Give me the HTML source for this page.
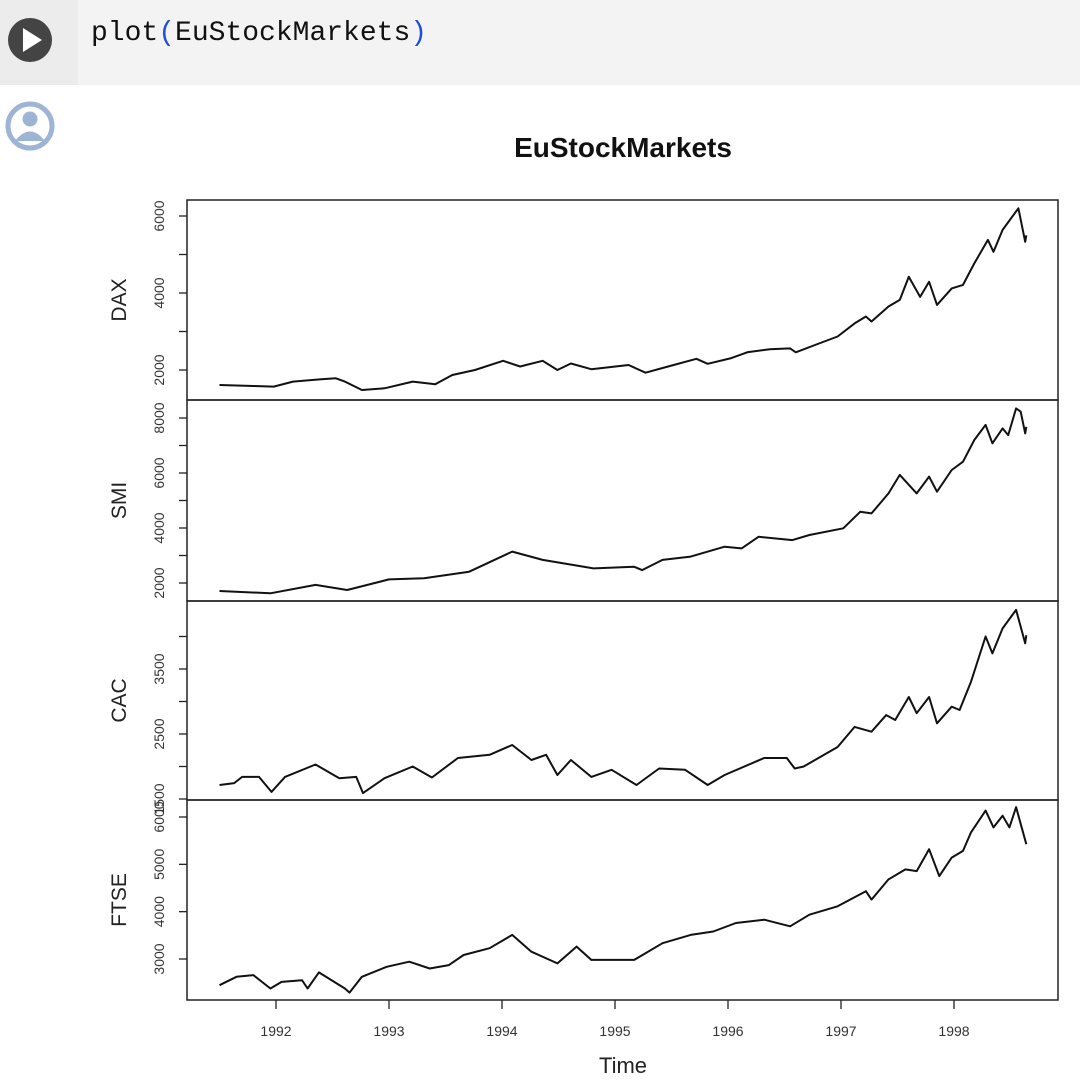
<!DOCTYPE html>
<html><head><meta charset="utf-8">
<style>
html,body{margin:0;padding:0;background:#fff;width:1080px;height:1092px;overflow:hidden;}
#hdr{position:absolute;left:0;top:0;width:1080px;height:85px;background:#f3f3f3;}
#gut{position:absolute;left:0;top:0;width:78px;height:85px;background:#ececec;}
#code{position:absolute;left:91px;top:18px;font-family:"Liberation Mono",monospace;font-size:28px;color:#111;}
#code .p{color:#1f4fd8;}
svg{position:absolute;left:0;top:0;}
</style></head><body>
<div id="hdr"></div>
<div id="gut"></div>
<svg width="1080" height="1092">
 <g>
  <circle cx="30" cy="40" r="22" fill="#444"/>
  <polygon points="23,28 23,52 42,40" fill="#fff"/>
 </g>
 <g>
  <circle cx="30" cy="126" r="22" fill="#fff" stroke="#9db4d5" stroke-width="5"/>
  <circle cx="30" cy="119" r="7.5" fill="#9db4d5"/>
  <path d="M15,141 Q30,122 45,141 Z" fill="#9db4d5"/>
 </g>
 <g id="chart"></g>
</svg>
<div id="code">plot<span class="p">(</span>EuStockMarkets<span class="p">)</span></div>
<script>
const daxT=[1991.5,1991.8,1991.98,1992.15,1992.4,1992.53,1992.61,1992.76,1992.96,1993.21,1993.41,1993.56,1993.76,1994.01,1994.16,1994.36,1994.49,1994.61,1994.79,1995.12,1995.27,1995.47,1995.72,1995.82,1996.02,1996.17,1996.37,1996.55,1996.6,1996.77,1996.97,1997.12,1997.22,1997.27,1997.42,1997.52,1997.6,1997.7,1997.78,1997.85,1997.98,1998.08,1998.18,1998.3,1998.35,1998.43,1998.57,1998.63,1998.64];
const daxV=[1610,1585,1570,1700,1760,1785,1700,1480,1525,1700,1630,1870,2000,2240,2090,2240,2000,2170,2020,2130,1930,2090,2290,2160,2300,2460,2540,2560,2460,2650,2870,3210,3390,3260,3650,3820,4420,3900,4290,3690,4120,4210,4770,5380,5070,5640,6200,5330,5500];
const smiT=[1991.5,1991.95,1992.35,1992.63,1993.0,1993.31,1993.71,1994.09,1994.36,1994.81,1995.17,1995.24,1995.42,1995.67,1995.97,1996.12,1996.27,1996.57,1996.72,1997.02,1997.17,1997.27,1997.42,1997.52,1997.67,1997.78,1997.85,1997.98,1998.08,1998.18,1998.28,1998.34,1998.43,1998.48,1998.55,1998.59,1998.63,1998.64];
const smiV=[1710,1625,1930,1745,2130,2170,2410,3140,2840,2530,2590,2470,2840,2960,3320,3260,3680,3560,3745,3990,4590,4530,5260,5930,5260,5870,5320,6110,6410,7200,7750,7080,7620,7380,8350,8230,7440,7680];
const cacT=[1991.5,1991.63,1991.7,1991.85,1991.96,1992.08,1992.35,1992.56,1992.71,1992.77,1992.96,1993.21,1993.38,1993.61,1993.89,1994.09,1994.26,1994.39,1994.49,1994.61,1994.79,1994.97,1995.19,1995.39,1995.62,1995.82,1995.97,1996.32,1996.52,1996.59,1996.67,1996.97,1997.12,1997.27,1997.4,1997.48,1997.6,1997.67,1997.78,1997.85,1997.98,1998.05,1998.15,1998.28,1998.34,1998.43,1998.55,1998.63,1998.64];
const cacV=[1715,1745,1840,1840,1610,1840,2030,1820,1840,1590,1820,2000,1830,2130,2180,2330,2100,2180,1870,2100,1840,1950,1715,1970,1950,1715,1870,2130,2130,1970,2000,2300,2610,2535,2790,2715,3070,2820,3070,2665,2920,2870,3305,4000,3740,4125,4410,3895,4020];
const ftseT=[1991.5,1991.65,1991.8,1991.95,1992.05,1992.23,1992.28,1992.38,1992.61,1992.65,1992.76,1992.98,1993.18,1993.36,1993.53,1993.66,1993.89,1994.09,1994.26,1994.49,1994.66,1994.79,1995.17,1995.42,1995.67,1995.87,1996.07,1996.32,1996.55,1996.72,1996.97,1997.22,1997.27,1997.42,1997.57,1997.67,1997.78,1997.87,1997.98,1998.08,1998.15,1998.28,1998.35,1998.43,1998.49,1998.55,1998.64];
const ftseV=[2447,2623,2660,2376,2517,2553,2376,2717,2376,2290,2623,2836,2943,2800,2872,3085,3228,3510,3155,2908,3262,2980,2980,3334,3510,3580,3760,3830,3690,3935,4113,4432,4255,4681,4894,4858,5320,4751,5143,5283,5675,6135,5780,6028,5780,6207,5425];
const xTicks=[1992,1993,1994,1995,1996,1997,1998];
const daxTicks=[2000,3000,4000,5000,6000], daxLabels=["2000","","4000","","6000"];
const smiTicks=[2000,3000,4000,5000,6000,7000,8000], smiLabels=["2000","","4000","","6000","","8000"];
const cacTicks=[1500,2000,2500,3000,3500,4000], cacLabels=["1500","","2500","","3500",""];
const ftseTicks=[3000,4000,5000,6000], ftseLabels=["3000","4000","5000","6000"];

const NS="http://www.w3.org/2000/svg";
const g=document.getElementById('chart');
const L=187,R=1058;
const xs=t=>276+(t-1992)*113;
function mk(tag,attrs,parent){const e=document.createElementNS(NS,tag);for(const k in attrs)e.setAttribute(k,attrs[k]);(parent||g).appendChild(e);return e;}
function scale(v1,p1,v2,p2){return v=>p1+(v-v1)*(p2-p1)/(v2-v1);}
const panels=[
 {name:'dax',title:'DAX',top:200,bot:400,T:daxT,V:daxV,ticks:daxTicks,labels:daxLabels,y:scale(2000,370,6000,216)},
 {name:'smi',title:'SMI',top:400,bot:601,T:smiT,V:smiV,ticks:smiTicks,labels:smiLabels,y:scale(2000,583,8000,418)},
 {name:'cac',title:'CAC',top:601,bot:800,T:cacT,V:cacV,ticks:cacTicks,labels:cacLabels,y:scale(2500,734,3500,669)},
 {name:'ftse',title:'FTSE',top:800,bot:1000,T:ftseT,V:ftseV,ticks:ftseTicks,labels:ftseLabels,y:scale(3000,959,6000,817)}
];
const title=mk('text',{x:623,y:157,'text-anchor':'middle','font-family':'Liberation Sans, sans-serif','font-size':'28','font-weight':'bold',fill:'#111'});


title.textContent='EuStockMarkets';
panels.forEach(p=>{
 const pg=mk('g',{});
 
 
 const fr=mk('rect',{x:L,y:p.top,width:R-L,height:p.bot-p.top,fill:'none',stroke:'#222','stroke-width':1.5},pg);
 
 
 p.ticks.forEach((v,i)=>{
  const yy=p.y(v);
  const tk=mk('line',{x1:L,x2:L-8,y1:yy,y2:yy,stroke:'#222','stroke-width':1.3},pg);
  
  
  if(p.labels[i]){
   const tx=mk('text',{x:0,y:0,transform:`translate(164,${yy}) rotate(-90)`,'text-anchor':'middle','font-family':'Liberation Sans, sans-serif','font-size':'14',fill:'#333'},pg);
   
   
   tx.textContent=p.labels[i];
  }
 });
 const ym=(p.top+p.bot)/2;
 const at=mk('text',{x:0,y:0,transform:`translate(126,${ym}) rotate(-90)`,'text-anchor':'middle','font-family':'Liberation Sans, sans-serif','font-size':'21',fill:'#222'},pg);
 
 
 at.textContent=p.title;
 const d=p.T.map((t,i)=>(i?'L':'M')+xs(t).toFixed(1)+','+p.y(p.V[i]).toFixed(1)).join(' ');
 const ln=mk('path',{d:d,fill:'none',stroke:'#111','stroke-width':2,'stroke-linejoin':'round'},pg);
 
 
});
xTicks.forEach(t=>{
 const tk=mk('line',{x1:xs(t),x2:xs(t),y1:1000,y2:1009,stroke:'#222','stroke-width':1.3});
 
 
 const tx=mk('text',{x:xs(t),y:1036,'text-anchor':'middle','font-family':'Liberation Sans, sans-serif','font-size':'14',fill:'#333'});
 
 
 tx.textContent=String(t);
});
const xt=mk('text',{x:623,y:1073,'text-anchor':'middle','font-family':'Liberation Sans, sans-serif','font-size':'22',fill:'#222'});


xt.textContent='Time';
</script>
</body></html>
